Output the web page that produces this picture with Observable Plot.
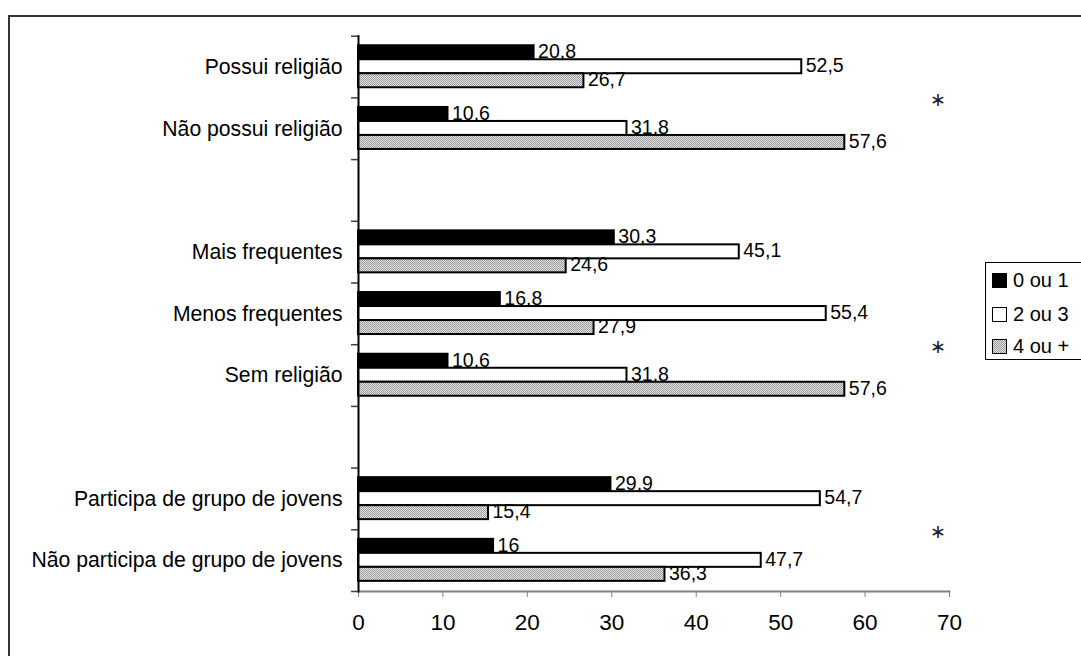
<!DOCTYPE html>
<html><head><meta charset="utf-8">
<script src="https://cdn.jsdelivr.net/npm/d3@7"></script>
<script src="https://cdn.jsdelivr.net/npm/@observablehq/plot@0.6"></script>
<style>
body{margin:0;background:#fff;font-family:"Liberation Sans",Arial,sans-serif;}
#wrap{position:relative;width:1081px;height:656px;overflow:hidden;}
#border{position:absolute;left:8px;top:15px;width:1200px;height:800px;border-top:2px solid #333;border-left:2px solid #333;pointer-events:none;}
#legend{position:absolute;left:985px;top:262px;width:120px;height:98px;border:1.5px solid #000;background:#fff;box-sizing:border-box;font-size:20px;color:#000;}
#legend .item{position:absolute;left:6px;height:22px;line-height:22px;white-space:nowrap;}
#legend .sw{display:inline-block;width:15px;height:15px;box-sizing:border-box;border:1.5px solid #000;vertical-align:-1px;margin-right:6px;}
svg text{font-family:"Liberation Sans",Arial,sans-serif;}
</style></head>
<body>
<div id="wrap"><div id="chart"></div><div id="border"></div><div id="legend"></div></div>
<script>
// ---- data ----
const categories = ["Possui religião","Não possui religião","gap1","Mais frequentes","Menos frequentes","Sem religião","gap2","Participa de grupo de jovens","Não participa de grupo de jovens"];
const groups = ["Possui religião","Não possui religião","Mais frequentes","Menos frequentes","Sem religião","Participa de grupo de jovens","Não participa de grupo de jovens"];
const series = ["0 ou 1","2 ou 3","4 ou +"];
const v01 = [20.8,10.6,30.3,16.8,10.6,29.9,16];
const v23 = [52.5,31.8,45.1,55.4,31.8,54.7,47.7];
const v4p = [26.7,57.6,24.6,27.9,57.6,15.4,36.3];
const xTicks = [0,10,20,30,40,50,60,70];
const significantAfter = ["Possui religião","Menos frequentes","Participa de grupo de jovens"];

// ---- layout / style ----
const W = 1081, H = 656, mT = 35.7, mB = 65, mL = 358, mR = 132;
const bw = (H - mT - mB) / categories.length;
const barH = 14, top0 = (bw - 3*barH)/2 - 0.3;
const fills = ["#000","#fff","url(#hatch)"];
const sets = [v01, v23, v4p];
const fmt = v => String(v).replace(".", ",");

const marks = [];
sets.forEach((vals, k) => {
  const data = groups.map((g,i) => ({cat: g, value: vals[i]}));
  const it = top0 + k*barH, ib = bw - top0 - (k+1)*barH;
  marks.push(Plot.barX(data, {x: "value", y: "cat", fill: fills[k], stroke: "#000", strokeWidth: 2, insetTop: it, insetBottom: ib}));
  marks.push(Plot.text(data, {x: "value", y: "cat", text: d => fmt(d.value), dx: 4, dy: it + barH/2 - bw/2 - 1, textAnchor: "start", fontSize: 19.5, fill: "#000"}));
});

const chart = Plot.plot({
  width: W, height: H,
  marginTop: mT, marginBottom: mB, marginLeft: mL, marginRight: mR,
  style: {background: "transparent", color: "#000"},
  x: {domain: [0,70], ticks: xTicks, label: null},
  y: {domain: categories, padding: 0, round: false, label: null},
  marks: [
    Plot.axisX({ticks: xTicks, tickSize: 6, stroke: "#808080", tickPadding: 17, fontSize: 22.5, fill: "#000", tickFormat: d => d, label: null}),
    Plot.axisY({tickSize: 0, tickPadding: 16, fontSize: 21.2, fill: "#000", tickFormat: d => d.startsWith("gap") ? "" : d, label: null}),
    ...marks,
    Plot.ruleY(categories, {y: d => d, x1: 0, x2: 0, insetLeft: -7, dy: -bw/2, stroke: "#404040", strokeWidth: 1.5}),
    Plot.ruleY([categories[categories.length-1]], {y: d => d, x1: 0, x2: 0, insetLeft: -7, dy: bw/2, stroke: "#404040", strokeWidth: 1.5}),
    Plot.frame({anchor: "bottom", stroke: "#808080", strokeWidth: 2}),
    Plot.frame({anchor: "left", stroke: "#000", strokeWidth: 2}),
    Plot.text(significantAfter, {y: d => d, text: () => "∗", frameAnchor: "right", dx: -12, dy: bw/2 + 2, fontSize: 19, fontFamily: "DejaVu Sans", textAnchor: "middle", fill: "#222"})
  ]
});

// pattern for the gray series
const svgns = "http://www.w3.org/2000/svg";
const defs = document.createElementNS(svgns, "defs");
defs.innerHTML = '<pattern id="hatch" width="2" height="2" patternUnits="userSpaceOnUse"><rect width="2" height="2" fill="#e2e2e2"/><rect width="1" height="1" fill="#9c9c9c"/><rect x="1" y="1" width="1" height="1" fill="#9c9c9c"/></pattern>';
chart.insertBefore(defs, chart.firstChild);
document.getElementById("chart").appendChild(chart);

// legend
const lg = document.getElementById("legend");
const swStyle = ["background:#000","background:#fff","background:repeating-conic-gradient(#9c9c9c 0 25%, #e2e2e2 0 50%) 0 0/2px 2px"];
const tops = [6, 40, 72];
series.forEach((s,i) => {
  const d = document.createElement("div");
  d.className = "item"; d.style.top = tops[i] + "px";
  d.innerHTML = '<span class="sw" style="' + swStyle[i] + '"></span>' + s;
  lg.appendChild(d);
});
</script>
</body></html>
